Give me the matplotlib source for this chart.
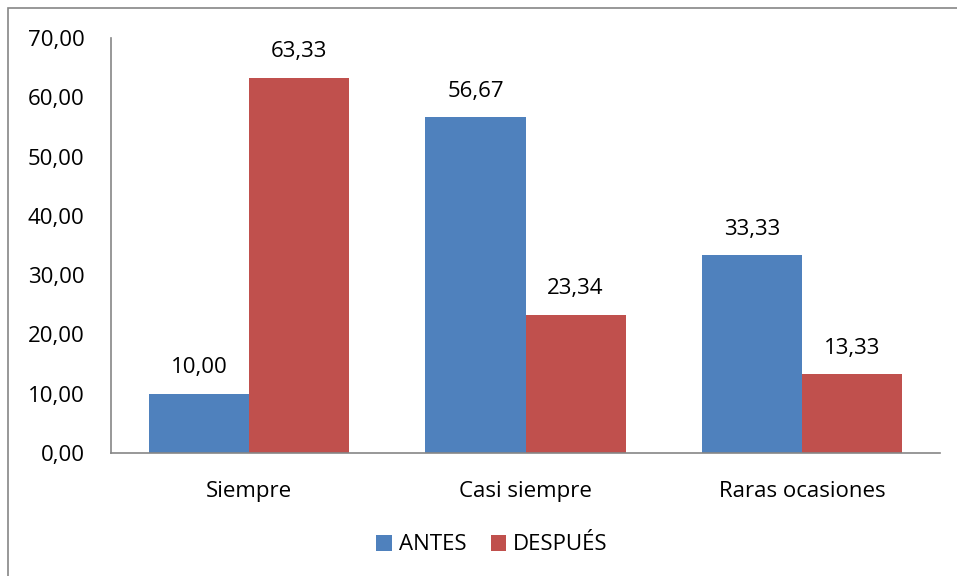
import matplotlib.pyplot as plt
import numpy as np
from matplotlib.patches import Rectangle

categories = ['Siempre', 'Casi siempre', 'Raras ocasiones']
antes = [10.00, 56.67, 33.33]
despues = [63.33, 23.34, 13.33]
series_names = ['ANTES', 'DESPUÉS']
colors = ['#4F81BD', '#C0504D']

plt.rcParams['font.family'] = ['Open Sans', 'DejaVu Sans']
FS = 16

fig = plt.figure(figsize=(9.57, 5.76), dpi=100)
ax = fig.add_axes([111 / 957, 1 - 453 / 576, 829 / 957, 415 / 576])

# outer chart border (only the top and left edges are visible in the crop)
fig.patches.append(Rectangle((8 / 957, -0.5), 2, 1 - 8 / 576 + 0.5,
                             transform=fig.transFigure, fill=False,
                             edgecolor='#868686', linewidth=1.2))

x = np.arange(len(categories))
w = 0.362
b1 = ax.bar(x - w / 2, antes, w, color=colors[0], label=series_names[0])
b2 = ax.bar(x + w / 2, despues, w, color=colors[1], label=series_names[1])

def fmt(v):
    return f'{v:.2f}'.replace('.', ',')

for bars in (b1, b2):
    for r in bars:
        h = r.get_height()
        ax.annotate(fmt(h), (r.get_x() + r.get_width() / 2, h),
                    xytext=(0, 11), textcoords='offset points',
                    ha='center', va='bottom', fontsize=FS)

ax.set_xlim(-0.5, 2.5)
ax.set_ylim(0, 70)
ax.set_yticks(np.arange(0, 71, 10))
ax.set_yticklabels([fmt(v) for v in np.arange(0, 71, 10)], fontsize=FS)
ax.set_xticks(x)
ax.set_xticklabels(categories, fontsize=FS)
ax.tick_params(axis='y', length=0, pad=19)
ax.tick_params(axis='x', length=0, pad=20)
for s in ('top', 'right'):
    ax.spines[s].set_visible(False)
for s in ('left', 'bottom'):
    ax.spines[s].set_color('#868686')
    ax.spines[s].set_linewidth(1.2)

fig.legend(loc='center', bbox_to_anchor=(492 / 957, 1 - 545 / 576), ncol=2,
           frameon=False, fontsize=FS, handlelength=0.7, handleheight=0.7,
           handletextpad=0.3, columnspacing=1.1)

fig.savefig('out.png', dpi=100)
